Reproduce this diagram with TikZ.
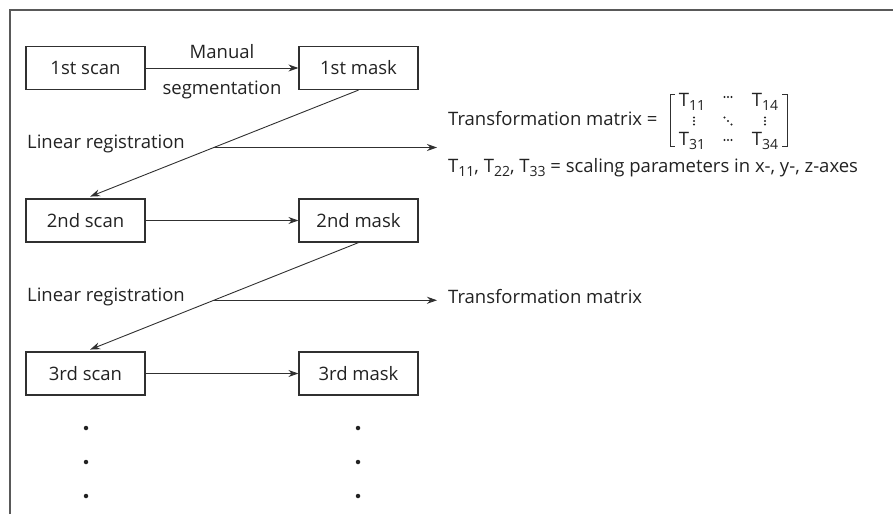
\documentclass[tikz,border=0pt]{standalone}
\usepackage{fontspec}
\setmainfont{Open Sans}
\usetikzlibrary{arrows.meta,calc}
\definecolor{ln}{HTML}{303030}
\definecolor{txt}{HTML}{222222}
\newcommand\mysubs[1]{\raisebox{-0.35ex}{\fontsize{14}{14}\selectfont #1}}
\begin{document}
\begin{tikzpicture}[x=1pt,y=-1pt,
  lbl/.style={font=\fontsize{18.5}{20}\selectfont, text=txt, inner sep=0pt},
  box/.style={lbl, draw=ln, line width=1.2pt, minimum width=119pt, minimum height=43pt},
  arr/.style={draw=ln, line width=0.9pt, -{Stealth[length=10pt,width=7pt]}},
  mdot/.style={fill=txt, circle, inner sep=0pt, minimum size=2.3pt},
  bigdot/.style={fill=txt, circle, inner sep=0pt, minimum size=4.5pt},
  brk/.style={draw=ln, line width=0.8pt},
  ]
\path[use as bounding box] (0,0) rectangle (893,514);
\draw[draw=ln!80, line width=1.5pt] (10,514) -- (10,10) -- (893,10);

% boxes
\node[box] (s1) at (85.5,68) {1st scan};
\node[box] (m1) at (358.5,68) {1st mask};
\node[box] (s2) at (85.5,220.5) {2nd scan};
\node[box] (m2) at (358.5,220.5) {2nd mask};
\node[box] (s3) at (85.5,373.5) {3rd scan};
\node[box] (m3) at (358.5,373.5) {3rd mask};

% horizontal arrows
\draw[arr] (s1) -- (m1)
  node[lbl, midway, yshift=16pt] (ms) {Manual}
  node[lbl, midway, yshift=-22pt] (sg) {segmentation};
\draw[arr] (s2) -- (m2);
\draw[arr] (s3) -- (m3);

% diagonal arrows
\draw[arr, shorten >=5pt] (m1.south) -- (s2.north);
\draw[arr, shorten >=5pt] (m2.south) -- (s3.north);

\coordinate (j1) at ($(m1.south)!0.53!(s2.north)$);
\coordinate (j2) at ($(m2.south)!0.53!(s3.north)$);

\node[lbl, anchor=west] (lr1) at (27,144) {Linear registration};
\node[lbl, anchor=west] (lr2) at (27,297) {Linear registration};

\coordinate (t1) at (437,144);
\coordinate (t2) at (437,297);
\draw[arr] (j1) -- (j1 -| t1);
\draw[arr] (j2) -- (j2 -| t2);

\node[lbl, anchor=west] (tm2) at (448,297) {Transformation matrix};
\node[lbl, anchor=west] (tm1) at (448,119) {Transformation matrix =};
\node[lbl, anchor=west] (sc) at (448,168) {T\mysubs{11}, T\mysubs{22}, T\mysubs{33} = scaling parameters in x-, y-, z-axes};

% matrix
\draw[brk] (675,94) -- (670,94) -- (670,146) -- (675,146);
\draw[brk] (782,94) -- (787,94) -- (787,146) -- (782,146);
\node[lbl] (t11) at (692,102) {T\mysubs{11}};
\node[lbl] (t14) at (765,102) {T\mysubs{14}};
\node[lbl] (t31) at (692,141) {T\mysubs{31}};
\node[lbl] (t34) at (765,141) {T\mysubs{34}};
\foreach \i in {-3.5,0,3.5} {
  \node[mdot] at (728+\i,97) {};
  \node[mdot] at (728+\i,140) {};
  \node[mdot] at (694,121+\i) {};
  \node[mdot] at (765,121+\i) {};
  \node[mdot] at (728+\i,121+\i) {};
}

% continuation dots
\foreach \y in {428,462,496} {
  \node[bigdot] at (86,\y) {};
  \node[bigdot] at (358,\y) {};
}
\end{tikzpicture}
\end{document}
